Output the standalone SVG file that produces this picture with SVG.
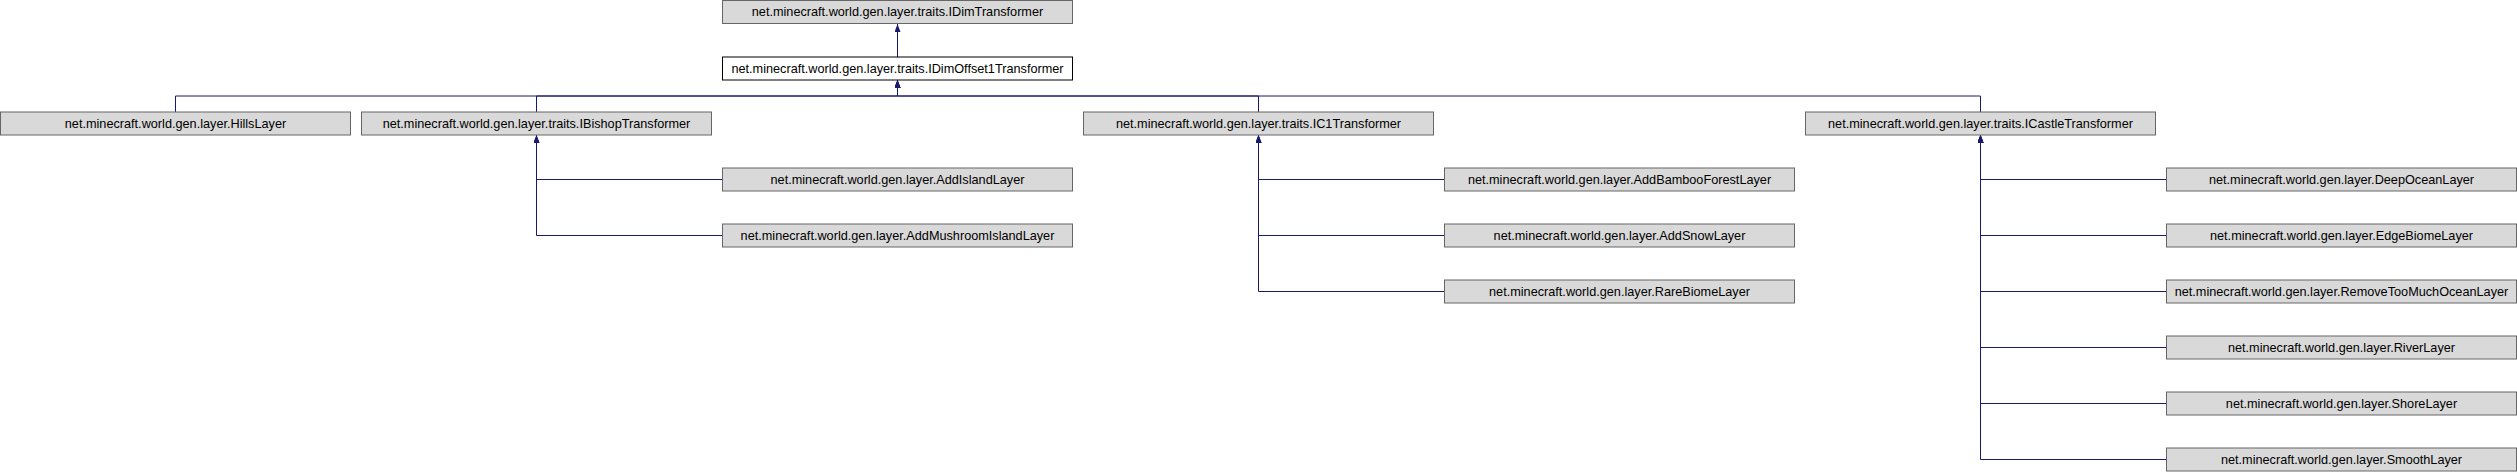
<svg xmlns="http://www.w3.org/2000/svg" width="2517" height="472" viewBox="0 0 2517 472">
<style>
.box{fill:#d9d9d9;stroke:#666666;stroke-width:1}
.cur{fill:#ffffff;stroke:#000000;stroke-width:1}
.lbl{font-family:"Liberation Sans",Arial,Helvetica,sans-serif;font-size:12.7px;fill:#000000;text-anchor:middle}
.edge{fill:none;stroke:#191970;stroke-width:1;marker-end:url(#arr)}
</style>
<defs>
<marker id="arr" viewBox="0 0 8 6" refX="8" refY="3" markerWidth="8" markerHeight="6" orient="auto" markerUnits="userSpaceOnUse">
<path d="M0,0 L8,3 L0,6 z" fill="#191970"/>
</marker>
</defs>
<rect width="2517" height="472" fill="#ffffff"/>
<g id="connectors">
<path class="edge" d="M897.5,57 V24"/>
<path class="edge" d="M175.5,112 V96 H897.5 V80"/>
<path class="edge" d="M536.5,112 V96 H897.5 V80"/>
<path class="edge" d="M1258.5,112 V96 H897.5 V80"/>
<path class="edge" d="M1980.5,112 V96 H897.5 V80"/>
<path class="edge" d="M722,179.5 H536.5 V135"/>
<path class="edge" d="M722,235.5 H536.5 V135"/>
<path class="edge" d="M1444,179.5 H1258.5 V135"/>
<path class="edge" d="M1444,235.5 H1258.5 V135"/>
<path class="edge" d="M1444,291.5 H1258.5 V135"/>
<path class="edge" d="M2166,179.5 H1980.5 V135"/>
<path class="edge" d="M2166,235.5 H1980.5 V135"/>
<path class="edge" d="M2166,291.5 H1980.5 V135"/>
<path class="edge" d="M2166,347.5 H1980.5 V135"/>
<path class="edge" d="M2166,403.5 H1980.5 V135"/>
<path class="edge" d="M2166,459.5 H1980.5 V135"/>
</g>
<g id="IDimTransformer"><rect class="box" x="722.5" y="0.5" width="350" height="23"/><text class="lbl" x="897.5" y="16">net.minecraft.world.gen.layer.traits.IDimTransformer</text></g>
<g id="IDimOffset1Transformer"><rect class="cur" x="722.5" y="57" width="350" height="23"/><text class="lbl" x="897.5" y="72.5">net.minecraft.world.gen.layer.traits.IDimOffset1Transformer</text></g>
<g id="HillsLayer"><rect class="box" x="0.5" y="112" width="350" height="23"/><text class="lbl" x="175.5" y="127.5">net.minecraft.world.gen.layer.HillsLayer</text></g>
<g id="IBishopTransformer"><rect class="box" x="361.5" y="112" width="350" height="23"/><text class="lbl" x="536.5" y="127.5">net.minecraft.world.gen.layer.traits.IBishopTransformer</text></g>
<g id="IC1Transformer"><rect class="box" x="1083.5" y="112" width="350" height="23"/><text class="lbl" x="1258.5" y="127.5">net.minecraft.world.gen.layer.traits.IC1Transformer</text></g>
<g id="ICastleTransformer"><rect class="box" x="1805.5" y="112" width="350" height="23"/><text class="lbl" x="1980.5" y="127.5">net.minecraft.world.gen.layer.traits.ICastleTransformer</text></g>
<g id="AddIslandLayer"><rect class="box" x="722.5" y="168" width="350" height="23"/><text class="lbl" x="897.5" y="183.5">net.minecraft.world.gen.layer.AddIslandLayer</text></g>
<g id="AddMushroomIslandLayer"><rect class="box" x="722.5" y="224" width="350" height="23"/><text class="lbl" x="897.5" y="239.5">net.minecraft.world.gen.layer.AddMushroomIslandLayer</text></g>
<g id="AddBambooForestLayer"><rect class="box" x="1444.5" y="168" width="350" height="23"/><text class="lbl" x="1619.5" y="183.5">net.minecraft.world.gen.layer.AddBambooForestLayer</text></g>
<g id="AddSnowLayer"><rect class="box" x="1444.5" y="224" width="350" height="23"/><text class="lbl" x="1619.5" y="239.5">net.minecraft.world.gen.layer.AddSnowLayer</text></g>
<g id="RareBiomeLayer"><rect class="box" x="1444.5" y="280" width="350" height="23"/><text class="lbl" x="1619.5" y="295.5">net.minecraft.world.gen.layer.RareBiomeLayer</text></g>
<g id="DeepOceanLayer"><rect class="box" x="2166.5" y="168" width="350" height="23"/><text class="lbl" x="2341.5" y="183.5">net.minecraft.world.gen.layer.DeepOceanLayer</text></g>
<g id="EdgeBiomeLayer"><rect class="box" x="2166.5" y="224" width="350" height="23"/><text class="lbl" x="2341.5" y="239.5">net.minecraft.world.gen.layer.EdgeBiomeLayer</text></g>
<g id="RemoveTooMuchOceanLayer"><rect class="box" x="2166.5" y="280" width="350" height="23"/><text class="lbl" x="2341.5" y="295.5">net.minecraft.world.gen.layer.RemoveTooMuchOceanLayer</text></g>
<g id="RiverLayer"><rect class="box" x="2166.5" y="336" width="350" height="23"/><text class="lbl" x="2341.5" y="351.5">net.minecraft.world.gen.layer.RiverLayer</text></g>
<g id="ShoreLayer"><rect class="box" x="2166.5" y="392" width="350" height="23"/><text class="lbl" x="2341.5" y="407.5">net.minecraft.world.gen.layer.ShoreLayer</text></g>
<g id="SmoothLayer"><rect class="box" x="2166.5" y="448" width="350" height="23"/><text class="lbl" x="2341.5" y="463.5">net.minecraft.world.gen.layer.SmoothLayer</text></g>
</svg>
